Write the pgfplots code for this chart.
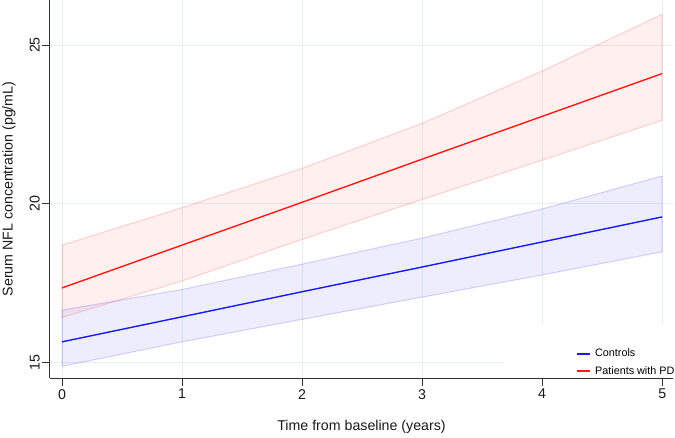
\documentclass[border=0pt]{standalone}
\usepackage{fontspec}
\setmainfont{Liberation Sans}
\usepackage{pgfplots}
\pgfplotsset{compat=1.18}
\definecolor{gridc}{RGB}{230,239,241}
\definecolor{axc}{RGB}{50,50,50}
\definecolor{myred}{RGB}{255,25,25}
\definecolor{myblue}{RGB}{25,25,240}
\begin{document}
\begin{tikzpicture}
\begin{axis}[
 scale only axis, width=623pt, height=378pt,
 xmin=-0.1, xmax=5.09, ymin=14.5, ymax=26.42,
 axis x line*=bottom, axis y line*=left,
 axis line style={axc, line width=1pt, -},
 xtick={0,1,2,3,4,5}, ytick={15,20,25},
 tick align=outside, major tick length=8pt,
 tick style={axc, line width=1pt},
 grid=major, major grid style={gridc, line width=1pt},
 /pgf/number format/assume math mode=true,
 tick label style={font=\fontsize{14.2}{16}\selectfont, text=black!90},
 yticklabel style={rotate=90, anchor=south, inner sep=2pt},
 xticklabel style={inner sep=3pt},
 xlabel={Time from baseline (years)},
 ylabel={Serum NFL concentration (pg/mL)},
 every axis x label/.style={at={(axis description cs:0.5,-0.1296)}, anchor=center, font=\fontsize{14.2}{16}\selectfont, text=black!90},
 every axis y label/.style={at={(axis description cs:-0.0658,0.5)}, anchor=center, rotate=90, font=\fontsize{14.2}{16}\selectfont, text=black!90},
 legend style={at={(axis description cs:1,0)}, anchor=south east, xshift=3.6pt, draw=none, fill=none,
   font=\fontsize{10.8}{12}\selectfont, inner xsep=0pt, inner ysep=0pt, row sep=4pt,
   /tikz/every odd column/.append style={column sep=2.4pt}},
 legend cell align=left,
 legend image code/.code={\draw[#1] (0pt,0pt) -- (13pt,0pt);},
]
% confidence bands
\addplot[fill=myblue, fill opacity=0.08, draw=myblue, draw opacity=0.18, line width=1pt, forget plot]
 coordinates {(0,16.64)(1,17.29)(2,18.09)(3,18.91)(4,19.83)(5,20.87)
              (5,18.48)(4,17.75)(3,17.05)(2,16.35)(1,15.64)(0,14.87)} -- cycle;
\addplot[fill=myred, fill opacity=0.07, draw=myred, draw opacity=0.18, line width=1pt, forget plot]
 coordinates {(0,18.69)(1,19.87)(2,21.11)(3,22.53)(4,24.18)(5,25.97)
              (5,22.63)(4,21.37)(3,20.13)(2,18.87)(1,17.56)(0,16.41)} -- cycle;
% predicted means
\addplot[myblue, line width=1.4pt] coordinates {(0,15.64)(1,16.43)(2,17.22)(3,18.00)(4,18.79)(5,19.58)};
\addlegendentry{Controls}
\addplot[myred, line width=1.4pt] coordinates {(0,17.34)(1,18.69)(2,20.04)(3,21.40)(4,22.75)(5,24.10)};
\addlegendentry{Patients with PD}
% legend background region
\fill[white] (axis cs:3.67,14.53) rectangle (axis cs:5.09,16.17);
\end{axis}
\pgfresetboundingbox
\path[use as bounding box] (-50pt,-59pt) rectangle (625pt,378pt);
\end{tikzpicture}
\end{document}
